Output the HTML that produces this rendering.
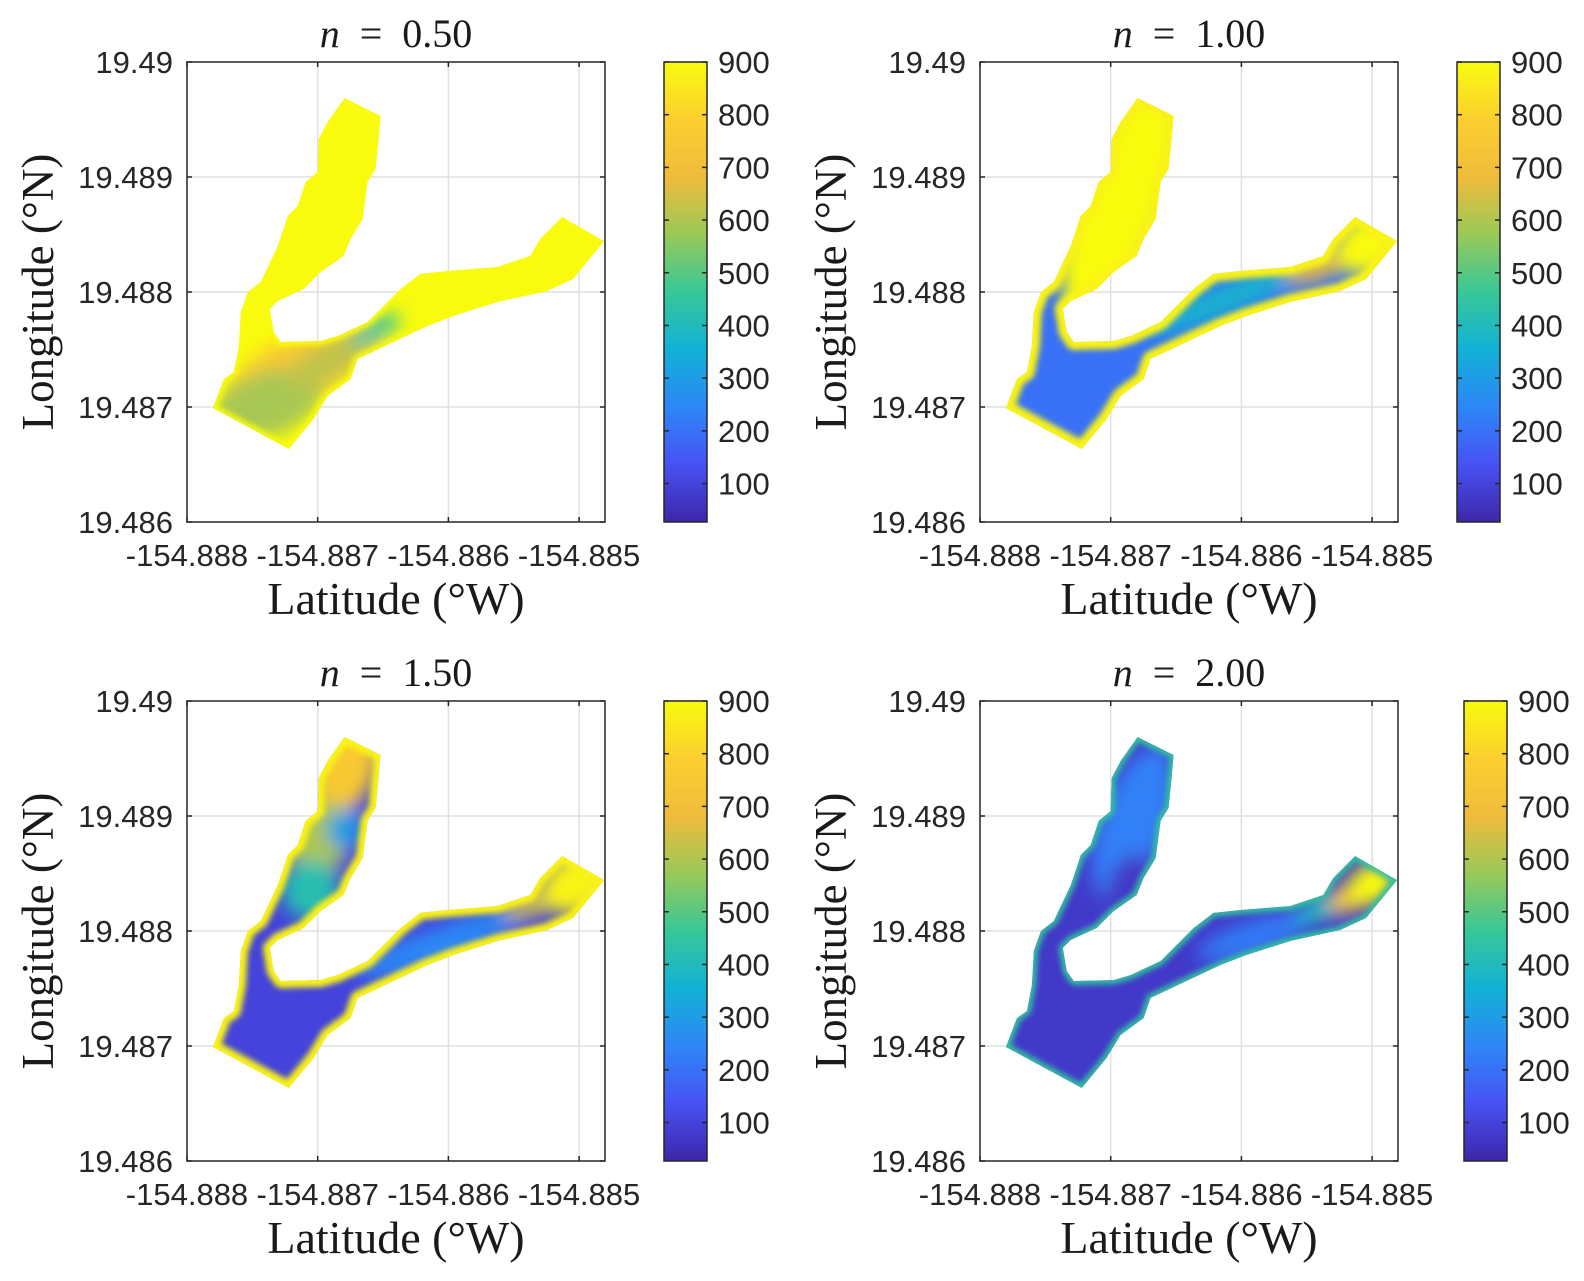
<!DOCTYPE html>
<html><head><meta charset="utf-8">
<style>
html,body{margin:0;padding:0;background:#fff;}
svg{display:block;}
.tick{font-family:"Liberation Sans",Arial,sans-serif;font-size:31px;fill:#262626;}
.ser{font-family:"Liberation Serif","Times New Roman",serif;fill:#1a1a1a;}
</style></head>
<body>
<svg id="fig" width="1584" height="1281" viewBox="0 0 1584 1281" xmlns="http://www.w3.org/2000/svg">
<defs>
<linearGradient id="parula" x1="0" y1="1" x2="0" y2="0">
<stop offset="0" stop-color="#3e26a8"/><stop offset="0.125" stop-color="#4752f4"/>
<stop offset="0.25" stop-color="#2d87f7"/><stop offset="0.375" stop-color="#12b1d6"/>
<stop offset="0.5" stop-color="#37c897"/><stop offset="0.625" stop-color="#99c958"/>
<stop offset="0.75" stop-color="#f0bb3c"/><stop offset="0.875" stop-color="#fbcf2f"/>
<stop offset="1" stop-color="#f9fb0e"/>
</linearGradient>
<filter id="blurA" x="-20%" y="-20%" width="140%" height="140%"><feGaussianBlur stdDeviation="9"/></filter>
<filter id="blurB" x="-20%" y="-20%" width="140%" height="140%"><feGaussianBlur stdDeviation="3"/></filter>
</defs>
</svg>
<script>
// ---- data ----
const xTicks = [-154.888, -154.887, -154.886, -154.885];
const xTickLabels = ["-154.888", "-154.887", "-154.886", "-154.885"];
const yTicks = [19.490, 19.489, 19.488, 19.487, 19.486];
const yTickLabels = ["19.49", "19.489", "19.488", "19.487", "19.486"];
const cbTicks = [100, 200, 300, 400, 500, 600, 700, 800, 900];
const cbRange = [27, 900];
const panelTitles = ["0.50", "1.00", "1.50", "2.00"];
const shoreLon = [-154.886794,-154.886519,-154.886534,-154.886557,-154.886618,-154.886656,-154.886748,-154.886802,-154.886977,-154.887107,-154.887305,-154.887366,-154.887336,-154.887282,-154.886977,-154.886847,-154.886618,-154.886366,-154.886214,-154.886008,-154.885626,-154.885374,-154.885298,-154.885130,-154.884809,-154.885046,-154.885244,-154.885626,-154.885962,-154.886160,-154.886420,-154.886695,-154.886748,-154.886924,-154.887031,-154.887221,-154.887802,-154.887718,-154.887641,-154.887603,-154.887588,-154.887534,-154.887435,-154.887305,-154.887229,-154.887153,-154.887092,-154.887000,-154.886992,-154.886924];
const shoreLat = [19.489687,19.489530,19.489330,19.489070,19.488957,19.488635,19.488461,19.488313,19.488174,19.488026,19.487922,19.487852,19.487652,19.487565,19.487574,19.487617,19.487739,19.488026,19.488157,19.488183,19.488217,19.488313,19.488461,19.488652,19.488443,19.488113,19.488009,19.487913,19.487791,19.487704,19.487565,19.487417,19.487243,19.487096,19.486896,19.486635,19.486991,19.487243,19.487304,19.487530,19.487826,19.488000,19.488087,19.488400,19.488661,19.488748,19.488957,19.489043,19.489330,19.489478];
const baseValue = [900, 200, 100, 75];
const edgeValue = [900, 880, 880, 450];
const blobLon = [
 [-154.887135,-154.887403,-154.886906,-154.886562],
 [-154.886921,-154.886141,-154.885376,-154.885031],
 [-154.886791,-154.886982,-154.887059,-154.886791,-154.886064,-154.885299,-154.885031],
 [-154.886833,-154.886872,-154.885900,-154.885376,-154.885150,-154.885000]
];
const blobLat = [
 [19.487322,19.487017,19.487409,19.487670],
 [19.488800,19.487930,19.488235,19.488409],
 [19.489409,19.488800,19.488365,19.488887,19.487887,19.488261,19.488409],
 [19.488939,19.488378,19.487950,19.488200,19.488300,19.488409]
];
const blobVal = [
 [760,590,620,450],
 [900,370,700,900],
 [760,600,420,300,250,640,880],
 [230,70,220,400,750,900]
];
const blobRx = [[95,60,50,28],[45,85,40,34],[30,30,28,18,90,40,35],[32,20,60,30,25,25]];
const blobRy = [[35,32,18,11],[125,14,12,28],[45,40,30,20,16,12,28],[80,35,16,12,14,20]];
const blobAng = [[-28,-20,-30,-28],[20,-22,-22,-30],[20,20,20,20,-20,-22,-30],[20,20,-18,-22,-25,-30]];
const edgeWidth = [8, 16, 14, 8];

// ---- layout ----
const panels = [
 {ox:0, oy:0, cb:0}, {ox:793, oy:0, cb:0}, {ox:0, oy:639, cb:0}, {ox:793, oy:639, cb:7}
];
const AX = {l:187, t:62, w:418, h:460};
const NS = "http://www.w3.org/2000/svg";
const svg = document.getElementById("fig");

const parulaStops = [[0,[62,38,168]],[0.125,[71,82,244]],[0.25,[45,135,247]],[0.375,[18,177,214]],[0.5,[55,200,151]],[0.625,[153,201,88]],[0.75,[240,187,60]],[0.875,[251,207,47]],[1,[249,251,14]]];
function cmap(v){
  let t=(v-cbRange[0])/(cbRange[1]-cbRange[0]); t=Math.max(0,Math.min(1,t));
  for(let i=1;i<parulaStops.length;i++){
    if(t<=parulaStops[i][0]){
      const [a,ca]=parulaStops[i-1],[b,cb]=parulaStops[i];const f=(t-a)/(b-a);
      return "rgb("+ca.map((c,k)=>Math.round(c+(cb[k]-c)*f)).join(",")+")";
    }
  }
  return "rgb(249,251,14)";
}
function mk(tag, attrs, parent){
  const e=document.createElementNS(NS,tag);
  for(const k in attrs) e.setAttribute(k,attrs[k]);
  (parent||svg).appendChild(e); return e;
}

panels.forEach((p,pi)=>{
  const L=AX.l+p.ox, T=AX.t+p.oy, W=AX.w, H=AX.h;
  const xs=v=>L+(v-xTicks[0])/0.001*130.7;
  const ys=v=>T+(yTicks[0]-v)/0.001*115;
  const g=mk("g",{});
  
  
  xTicks.forEach(v=>{ const x=xs(v); if(x>L+1&&x<L+W-1){ const gl=mk("line",{x1:x,x2:x,y1:T,y2:T+H,stroke:"#e0e0e0","stroke-width":1.5},g);   }});
  yTicks.forEach(v=>{ const y=ys(v); if(y>T+1&&y<T+H-1){ const gl=mk("line",{x1:L,x2:L+W,y1:y,y2:y,stroke:"#e0e0e0","stroke-width":1.5},g);   }});
  const pts=shoreLon.map((lo,i)=>xs(lo).toFixed(1)+","+ys(shoreLat[i]).toFixed(1)).join(" ");
  const cp=mk("clipPath",{id:"clip"+pi},svg.querySelector("defs"));
  mk("polygon",{points:pts},cp);
  const field=mk("g",{"clip-path":"url(#clip"+pi+")"},g);
  
  
  mk("polygon",{points:pts,fill:cmap(baseValue[pi])},field);
  const bl=mk("g",{filter:"url(#blurA)"},field);
  blobLon[pi].forEach((lo,j)=>{
    const cx=xs(lo), cy=ys(blobLat[pi][j]);
    const e=mk("ellipse",{cx:cx,cy:cy,rx:blobRx[pi][j],ry:blobRy[pi][j],fill:cmap(blobVal[pi][j]),transform:"rotate("+blobAng[pi][j]+" "+cx+" "+cy+")"},bl);
    
    
  });
  const eg=mk("g",{filter:"url(#blurB)"},field);
  mk("polygon",{points:pts,fill:"none",stroke:cmap(edgeValue[pi]),"stroke-width":edgeWidth[pi],"stroke-linejoin":"round"},eg);
  const box=mk("rect",{x:L,y:T,width:W,height:H,fill:"none",stroke:"#262626","stroke-width":1.5},g);
   
  xTicks.forEach((v,i)=>{ const x=xs(v);
    mk("line",{x1:x,x2:x,y1:T+H,y2:T+H-5,stroke:"#262626","stroke-width":1.5},g);
    mk("line",{x1:x,x2:x,y1:T,y2:T+5,stroke:"#262626","stroke-width":1.5},g);
    const t=mk("text",{x:x,y:T+H+44,"text-anchor":"middle",class:"tick"},g); t.textContent=xTickLabels[i];
     
  });
  yTicks.forEach((v,i)=>{ const y=ys(v);
    mk("line",{x1:L,x2:L+5,y1:y,y2:y,stroke:"#262626","stroke-width":1.5},g);
    mk("line",{x1:L+W,x2:L+W-5,y1:y,y2:y,stroke:"#262626","stroke-width":1.5},g);
    const t=mk("text",{x:L-14,y:y+11,"text-anchor":"end",class:"tick"},g); t.textContent=yTickLabels[i];
     
  });
  const ti=mk("text",{x:L+W/2,y:T-15,"text-anchor":"middle",class:"ser","font-size":40},g);
   
  const ni=mk("tspan",{"font-style":"italic"},ti); ni.textContent="n";
  const rest=mk("tspan",{},ti); rest.textContent="\u2002=\u2002"+panelTitles[pi];
  const xl=mk("text",{x:L+W/2,y:T+H+92,"text-anchor":"middle",class:"ser","font-size":46},g);
  xl.textContent="Latitude (°W)";
   
  const yx=p.ox+53, yy=T+H/2;
  const yl=mk("text",{x:yx,y:yy,"text-anchor":"middle",class:"ser","font-size":45,transform:"rotate(-90 "+yx+" "+yy+")"},g);
  yl.textContent="Longitude (°N)";
   
  const cx0=664+p.ox+p.cb, cw=43;
  const cbs=v=>T+H-(v-cbRange[0])/(cbRange[1]-cbRange[0])*H;
  const cbar=mk("rect",{x:cx0,y:T,width:cw,height:H,fill:"url(#parula)",stroke:"#262626","stroke-width":1.5},g);
   
  cbTicks.forEach(v=>{ const y=cbs(v);
    mk("line",{x1:cx0,x2:cx0+5,y1:y,y2:y,stroke:"#262626","stroke-width":1.5},g);
    mk("line",{x1:cx0+cw,x2:cx0+cw-5,y1:y,y2:y,stroke:"#262626","stroke-width":1.5},g);
    const t=mk("text",{x:cx0+cw+11,y:y+11,class:"tick"},g); t.textContent=String(v);
     
  });
});
</script>
</body></html>
